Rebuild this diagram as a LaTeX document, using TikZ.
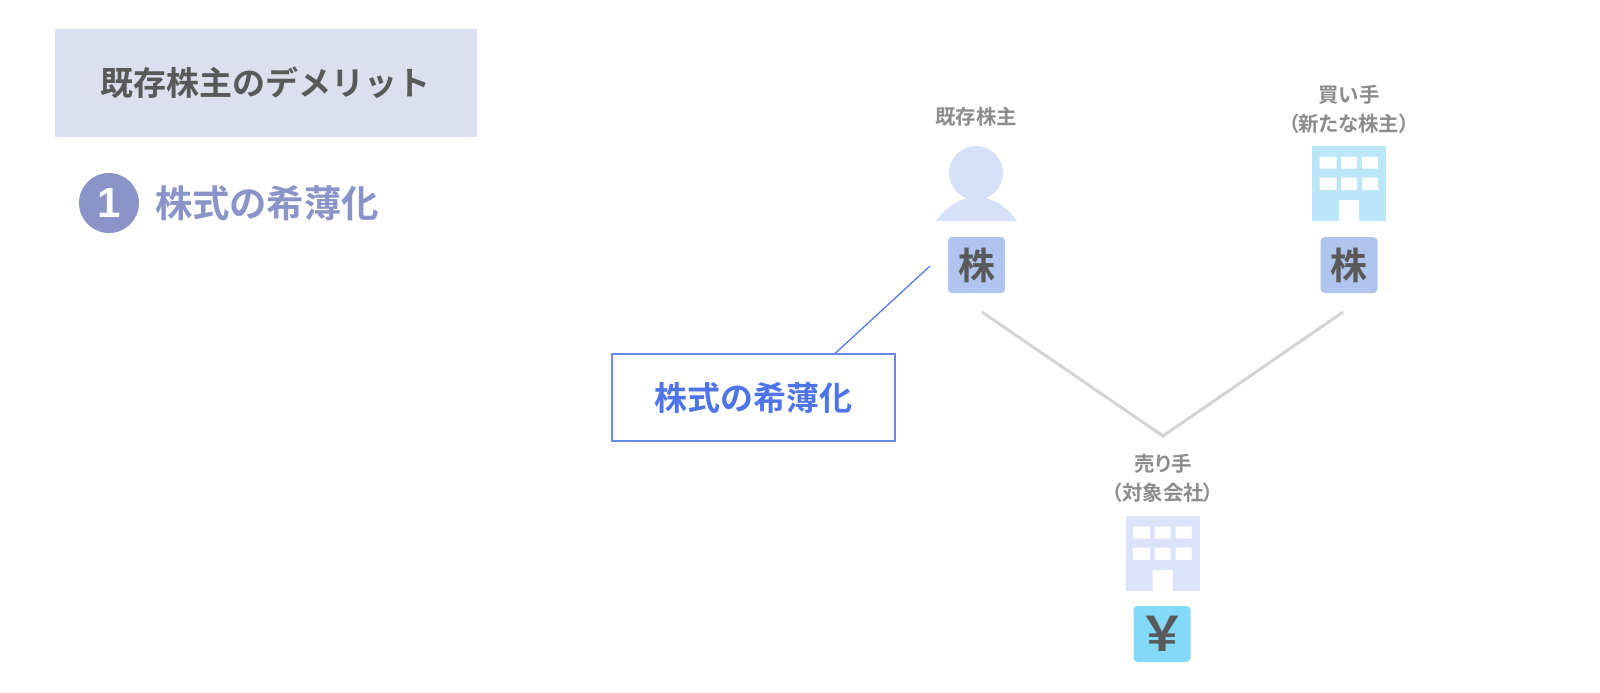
\documentclass[tikz,border=0pt]{standalone}
\usepackage{fontspec}
\setmainfont[BoldFont={Noto Sans CJK JP Bold},RawFeature={+palt}]{Noto Sans CJK JP}
\newfontfamily\fullwidthfont[BoldFont={Noto Sans CJK JP Bold}]{Noto Sans CJK JP}
\newfontfamily\numfont{Liberation Sans Bold}
\usetikzlibrary{calc}
\definecolor{titlebg}{HTML}{DCDFED}
\definecolor{ink}{HTML}{595959}
\definecolor{muted}{HTML}{8C8C8C}
\definecolor{indigo}{HTML}{8A94C8}
\definecolor{callout}{HTML}{4D74E8}
\definecolor{person}{HTML}{D6E0F8}
\definecolor{share}{HTML}{B0C4F0}
\definecolor{buyer}{HTML}{BBE6F8}
\definecolor{seller}{HTML}{DAE3FA}
\definecolor{yen}{HTML}{84D8F8}
\definecolor{vline}{HTML}{D4D4D4}
\tikzset{
  x=0.5pt,y=-0.5pt,
  txt/.style={inner sep=0pt,font=\bfseries},
  label/.style={txt,text=muted,font=\bfseries\fontsize{10.2}{14.5}\selectfont,align=center},
  token/.style={txt,text=ink,rounded corners=2pt,minimum width=28.5pt,minimum height=28pt,font=\bfseries\fontsize{18.5}{20}\selectfont},
  pics/office/.style={code={
    \fill[#1] (0,0) rectangle (74,75);
    \fill[white] (7.5,10.5) rectangle (24.5,22.5) (29,10.5) rectangle (45,22.5) (50,10.5) rectangle (66,22.5)
                 (7.5,31.5) rectangle (24.5,44) (29,31.5) rectangle (45,44) (50,31.5) rectangle (66,44)
                 (27,54) rectangle (47,75);
  }}
}
\begin{document}
\begin{tikzpicture}
\useasboundingbox (0,0) rectangle (1600,692);
\fill[white] (0,0) rectangle (1600,692);
% left panel
\node[txt,fill=titlebg,minimum width=211pt,minimum height=54pt] (title) at (266,83) {};
\node[txt,text=ink,font=\fullwidthfont\bfseries\fontsize{16.5}{20}\selectfont] (titletext) at (265,83) {既存株主のデメリット};
\node[circle,fill=indigo,text=white,inner sep=0pt,minimum size=30pt,font=\numfont\fontsize{21}{22}\selectfont] (num) at (109,203) {1};
\node[txt,text=indigo,font=\bfseries\fontsize{18.7}{20}\selectfont] (heading) at (267,203.5) {株式の希薄化};
% callout
\node[draw=callout!85!white,line width=0.75pt,fill=white,text=callout,txt,minimum width=141.5pt,minimum height=43.5pt,font=\bfseries\fontsize{16.5}{20}\selectfont] (dilution) at (753.5,397.5) {\raisebox{-0.5pt}{株式の希薄化}};
\coordinate (leaderend) at (930,266);
\coordinate (leaderstart) at (835,353.5);
\draw[callout,line width=0.6pt] (leaderstart) -- (leaderend);
% existing shareholder
\node[label] (holder) at (976,117) {既存株主};
\fill[person] (976,173) circle (27);
\fill[person] (936,221) .. controls (948,205) and (962,197) .. (976.5,197) .. controls (991,197) and (1005,205) .. (1017,221) -- cycle;
\node[token,fill=share] (share1) at (976.5,265) {株};
% buyer
\node[label] (buyerlabel) at (1349,109) {買い手\\（新たな株主）};
\pic at (1312,146) {office=buyer};
\node[token,fill=share] (share2) at (1349,265) {株};
% V connector
\coordinate (vleft) at (982,312);
\coordinate (vright) at (1343,312);
\coordinate (vbottom) at (1163,436);
\draw[vline,line width=1.5pt,line join=miter] (vleft) -- (vbottom) -- (vright);
% seller
\node[label] (sellerlabel) at (1163,478.5) {売り手\\（対象会社）};
\pic at (1125.5,516) {office=seller};
\node[token,fill=yen,font=\bfseries\fontsize{24}{26}\selectfont] (cash) at (1162,634) {￥};
\end{tikzpicture}
\end{document}
